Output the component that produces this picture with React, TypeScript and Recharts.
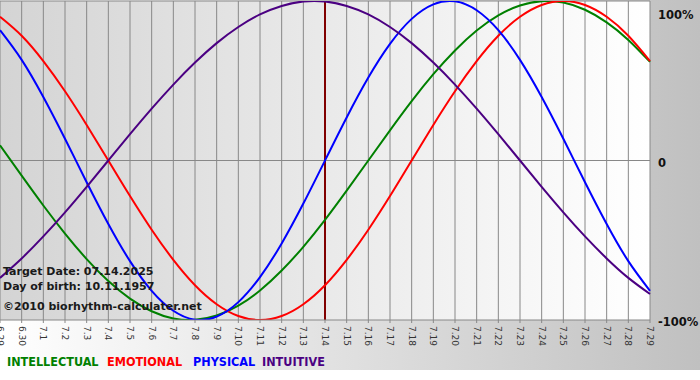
import React from "react";
import {
  LineChart,
  Line,
  XAxis,
  YAxis,
  CartesianGrid,
  ReferenceLine,
} from "recharts";

const days = [
  "6.29", "6.30", "7.1", "7.2", "7.3", "7.4", "7.5", "7.6", "7.7", "7.8", "7.9",
  "7.10", "7.11", "7.12", "7.13", "7.14", "7.15", "7.16", "7.17", "7.18", "7.19",
  "7.20", "7.21", "7.22", "7.23", "7.24", "7.25", "7.26", "7.27", "7.28", "7.29",
];

// percent values, one per day
const intellectual = [9.5, -9.5, -28.2, -45.8, -61.8, -75.6, -86.6, -94.5, -99, -99.9, -97.2, -91, -81.5, -69, -54.1, -37.2, -18.9, 0, 18.9, 37.2, 54.1, 69, 81.5, 91, 97.2, 99.9, 99, 94.5, 86.6, 75.6, 61.8];
const emotional = [90.1, 78.2, 62.3, 43.4, 22.3, 0, -22.3, -43.4, -62.3, -78.2, -90.1, -97.5, -100, -97.5, -90.1, -78.2, -62.3, -43.4, -22.3, 0, 22.3, 43.4, 62.3, 78.2, 90.1, 97.5, 100, 97.5, 90.1, 78.2, 62.3];
const physical = [81.7, 63.1, 39.8, 13.6, -13.6, -39.8, -63.1, -81.7, -94.2, -99.8, -97.9, -88.8, -73.1, -52, -27, 0, 27, 52, 73.1, 88.8, 97.9, 99.8, 94.2, 81.7, 63.1, 39.8, 13.6, -13.6, -39.8, -63.1, -81.7];
const intuitive = [-73.6, -61.4, -47.6, -32.5, -16.5, 0, 16.5, 32.5, 47.6, 61.4, 73.6, 83.7, 91.6, 96.9, 99.7, 99.7, 96.9, 91.6, 83.7, 73.6, 61.4, 47.6, 32.5, 16.5, 0, -16.5, -32.5, -47.6, -61.4, -73.6, -83.7];

const yTicks = [-100, 0, 100];
const targetDay = "7.14";

const series = [
  { key: "intellectual", name: "INTELLECTUAL", color: "#008000", left: 7 },
  { key: "emotional", name: "EMOTIONAL", color: "#ff0000", left: 107 },
  { key: "physical", name: "PHYSICAL", color: "#0000ff", left: 193 },
  { key: "intuitive", name: "INTUITIVE", color: "#4b0082", left: 262 },
];

const infoLines = [
  { text: "Target Date: 07.14.2025", top: 266 },
  { text: "Day of birth: 10.11.1957", top: 281 },
  { text: "\u00a92010 biorhythm-calculater.net", top: 301 },
];

const data = days.map((d, i) => ({
  day: d,
  intellectual: intellectual[i],
  emotional: emotional[i],
  physical: physical[i],
  intuitive: intuitive[i],
}));

const DayTick = (props: any) => {
  const { x, y, payload } = props;
  return (
    <text
      x={x}
      y={y + 1}
      dy={3}
      transform={`rotate(90 ${x} ${y + 1})`}
      textAnchor="start"
      fontSize={9}
      fontFamily="DejaVu Sans"
      fill="#333"
    >
      {payload.value}
    </text>
  );
};

const PercentTick = (props: any) => {
  const { y, payload } = props;
  const v = payload.value;
  const label = v === 0 ? "0" : `${v}%`;
  return (
    <text
      x={658}
      y={v === 100 ? y + 6 : y + 2}
      dominantBaseline="central"
      textAnchor="start"
      fontSize={11.5}
      fontWeight="bold"
      fontFamily="DejaVu Sans"
      fill="#111"
    >
      {label}
    </text>
  );
};

export default function App() {
  return (
    <div
      style={{
        position: "absolute",
        left: 0,
        top: 0,
        width: 700,
        height: 380,
        background: "#ffffff",
        overflow: "hidden",
      }}
    >
      <div
        style={{
          position: "absolute",
          left: 0,
          top: 0,
          width: 700,
          height: 370,
          background: "linear-gradient(to right, #ffffff, #c0c0c0)",
        }}
      />
      <div style={{ position: "absolute", left: 0, top: 0 }}>
        <LineChart
          width={700}
          height={380}
          data={data}
          margin={{ top: 1, right: 0, left: 0, bottom: 0 }}
        >
          <defs>
            <linearGradient id="plotBg" x1="0" y1="0" x2="1" y2="0">
              <stop offset="0%" stopColor="#d4d4d4" />
              <stop offset="100%" stopColor="#ffffff" />
            </linearGradient>
          </defs>
          <CartesianGrid
            horizontal={false}
            stroke="#888"
            fill="url(#plotBg)"
          />
          <XAxis
            dataKey="day"
            interval={0}
            height={60}
            tickSize={3}
            stroke="#888"
            tick={<DayTick />}
          />
          <YAxis
            orientation="right"
            width={50}
            domain={[-100, 100]}
            ticks={yTicks}
            allowDataOverflow
            axisLine={false}
            tickLine={false}
            tick={<PercentTick />}
          />
          <ReferenceLine y={0} stroke="#888" />
          <ReferenceLine y={100} stroke="#888" />
          <ReferenceLine x={targetDay} stroke="#800000" strokeWidth={2} />
          {series.map((s) => (
            <Line
              key={s.key}
              type="natural"
              dataKey={s.key}
              stroke={s.color}
              strokeWidth={2}
              dot={false}
              isAnimationActive={false}
            />
          ))}
        </LineChart>
      </div>
      {infoLines.map((l) => (
        <div
          key={l.text}
          style={{
            position: "absolute",
            left: 3,
            top: l.top,
            fontFamily: "DejaVu Sans",
            fontWeight: "bold",
            fontSize: 11,
            lineHeight: "11px",
            color: "#1a1a1a",
            whiteSpace: "nowrap",
          }}
        >
          {l.text}
        </div>
      ))}
      {series.map((s) => (
        <div
          key={s.name}
          style={{
            position: "absolute",
            left: s.left,
            top: 356,
            fontFamily: "'DejaVu Sans Condensed', 'DejaVu Sans'",
            fontStretch: "condensed",
            fontWeight: "bold",
            fontSize: 12.5,
            lineHeight: "12px",
            color: s.color,
            whiteSpace: "nowrap",
          }}
        >
          {s.name}
        </div>
      ))}
    </div>
  );
}
